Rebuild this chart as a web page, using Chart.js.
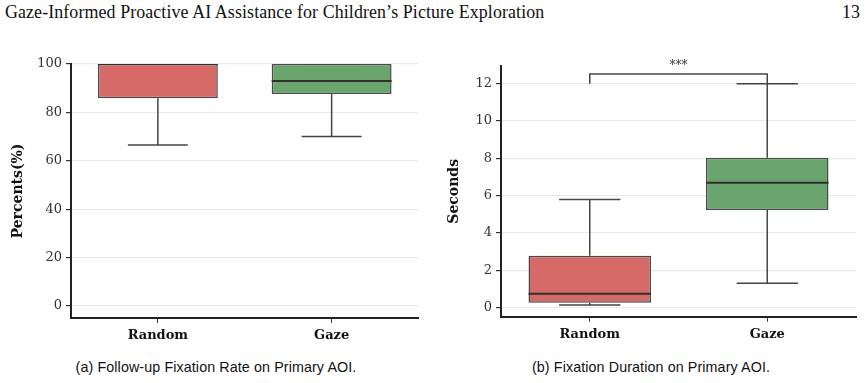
<!DOCTYPE html>
<html>
<head>
<meta charset="utf-8">
<script src="https://cdn.jsdelivr.net/npm/chart.js@4"></script>
<style>
  body { margin: 0; width: 868px; height: 383px; background: #fff; position: relative; overflow: hidden; }
  .hdr { position: absolute; top: 2px; font-family: "Liberation Serif", serif; font-size: 17.9px; color: #111; letter-spacing: 0.1px; }
  .cap { position: absolute; top: 359px; font-family: "Liberation Sans", sans-serif; font-size: 14.3px; color: #111; width: 430px; text-align: center; letter-spacing: 0.1px; }
  .box { position: absolute; top: 40px; height: 305px; }
</style>
</head>
<body>
<div class="hdr" style="left:5px">Gaze-Informed Proactive AI Assistance for Children’s Picture Exploration</div>
<div class="hdr" style="right:8px">13</div>
<div class="box" style="left:0;width:430px"><canvas id="rateChart"></canvas></div>
<div class="box" style="left:430px;width:438px"><canvas id="durChart"></canvas></div>
<div class="cap" style="left:1px">(a) Follow-up Fixation Rate on Primary AOI.</div>
<div class="cap" style="left:436px">(b) Fixation Duration on Primary AOI.</div>
<script>
// categories
const groups = ["Random", "Gaze"];
const boxColors = ["#d66a69", "#6aa56d"];

// (a) follow-up fixation rate, percent
const rateQ1 = [85.8, 87.6];
const rateQ3 = [100, 100];
const rateMedian = [100, 93.0];
const rateLow = [66.5, 70.0];
const rateHigh = [100, 100];
const rateTicks = [0, 20, 40, 60, 80, 100];

// (b) fixation duration, seconds
const durQ1 = [0.27, 5.23];
const durQ3 = [2.79, 8.03];
const durMedian = [0.75, 6.7];
const durLow = [0.15, 1.31];
const durHigh = [5.8, 12.0];
const durTicks = [0, 2, 4, 6, 8, 10, 12];
const sigBar = { from: 0, to: 1, top: 12.52, leg: 12.0, label: "***" };

const lineCol = "#454545";

// whiskers, caps and medians on top of the floating bars
const boxPlugin = {
  id: "boxParts",
  afterDatasetsDraw(chart) {
    const st = chart.options.plugins.boxParts;
    const x = chart.scales.x, y = chart.scales.y;
    const bars = chart.getDatasetMeta(0).data;
    const a = chart.chartArea;
    const c = chart.ctx;
    c.save();
    c.beginPath();
    c.rect(a.left, a.top, a.right - a.left, a.bottom - a.top);
    c.clip();
    c.strokeStyle = lineCol;
    c.lineWidth = 1.5;
    groups.forEach((g, i) => {
      const cx = x.getPixelForValue(i);
      const half = bars[i].width / 2;
      c.beginPath();
      c.moveTo(cx, y.getPixelForValue(st.high[i]));
      c.lineTo(cx, y.getPixelForValue(st.q3[i]));
      c.moveTo(cx, y.getPixelForValue(st.q1[i]));
      c.lineTo(cx, y.getPixelForValue(st.low[i]));
      c.moveTo(cx - half / 2, y.getPixelForValue(st.high[i]));
      c.lineTo(cx + half / 2, y.getPixelForValue(st.high[i]));
      c.moveTo(cx - half / 2, y.getPixelForValue(st.low[i]));
      c.lineTo(cx + half / 2, y.getPixelForValue(st.low[i]));
      c.stroke();
      c.beginPath();
      c.lineWidth = 2;
      c.strokeStyle = "#2f2f2f";
      c.moveTo(cx - half, y.getPixelForValue(st.median[i]));
      c.lineTo(cx + half, y.getPixelForValue(st.median[i]));
      c.stroke();
      c.lineWidth = 1.5;
      c.strokeStyle = lineCol;
    });
    c.restore();
    if (st.sig) {
      const s = st.sig;
      const x1 = x.getPixelForValue(s.from), x2 = x.getPixelForValue(s.to);
      const yt = y.getPixelForValue(s.top), yl = y.getPixelForValue(s.leg);
      c.save();
      c.strokeStyle = lineCol;
      c.lineWidth = 1.5;
      c.beginPath();
      c.moveTo(x1, yl); c.lineTo(x1, yt); c.lineTo(x2, yt); c.lineTo(x2, yl);
      c.stroke();
      c.fillStyle = "#333";
      c.font = "12px 'DejaVu Serif'";
      c.textAlign = "center";
      c.textBaseline = "bottom";
      c.fillText(s.label, (x1 + x2) / 2, yt - 2);
      c.restore();
    }
  },
};

function makeChart(id, o) {
  return new Chart(document.getElementById(id), {
    type: "bar",
    data: {
      labels: groups,
      datasets: [{
        data: o.q1.map((v, i) => [v, o.q3[i]]),
        backgroundColor: boxColors,
        borderColor: "#4a4a4a",
        borderWidth: 1.5,
        borderSkipped: false,
        barPercentage: 0.69,
        categoryPercentage: 1,
      }],
    },
    options: {
      responsive: true,
      maintainAspectRatio: false,
      animation: false,
      layout: { padding: { top: o.padTop, right: o.padRight, bottom: 0, left: 0 } },
      plugins: {
        legend: { display: false },
        tooltip: { enabled: false },
        boxParts: o,
      },
      scales: {
        x: {
          afterFit: (s) => { s.height = o.xHeight; },
          grid: { offset: false, drawOnChartArea: false, tickLength: 5, tickColor: "#333" },
          border: { color: "#222", width: 2 },
          ticks: { color: "#111", padding: 5, font: { family: "'DejaVu Serif'", size: 13, weight: "bold" } },
        },
        y: {
          min: o.min,
          max: o.max,
          afterBuildTicks: (s) => { s.ticks = o.ticks.map((v) => ({ value: v })); },
          afterFit: (s) => { s.width = o.yWidth; },
          grid: { color: "#e9e9e9", lineWidth: 1.2, tickLength: 5, tickColor: "#333" },
          border: { color: "#222", width: 2 },
          ticks: { color: "#333", padding: 4, font: { family: "'DejaVu Serif'", size: 13 } },
          title: {
            display: true,
            text: o.title,
            color: "#111",
            padding: { top: o.titlePad, bottom: 0 },
            font: { family: "'DejaVu Serif'", size: 14, weight: "bold" },
          },
        },
      },
    },
    plugins: [boxPlugin],
  });
}

makeChart("rateChart", {
  q1: rateQ1, q3: rateQ3, median: rateMedian, low: rateLow, high: rateHigh,
  ticks: rateTicks, min: -5, max: 100, title: "Percents(%)",
  padTop: 24, padRight: 11.5, xHeight: 27, yWidth: 71, titlePad: 10,
});

makeChart("durChart", {
  q1: durQ1, q3: durQ3, median: durMedian, low: durLow, high: durHigh,
  ticks: durTicks, min: -0.48, max: 12.95, title: "Seconds", sig: sigBar,
  padTop: 26, padRight: 12, xHeight: 28.3, yWidth: 71, titlePad: 16,
});
</script>
</body>
</html>
